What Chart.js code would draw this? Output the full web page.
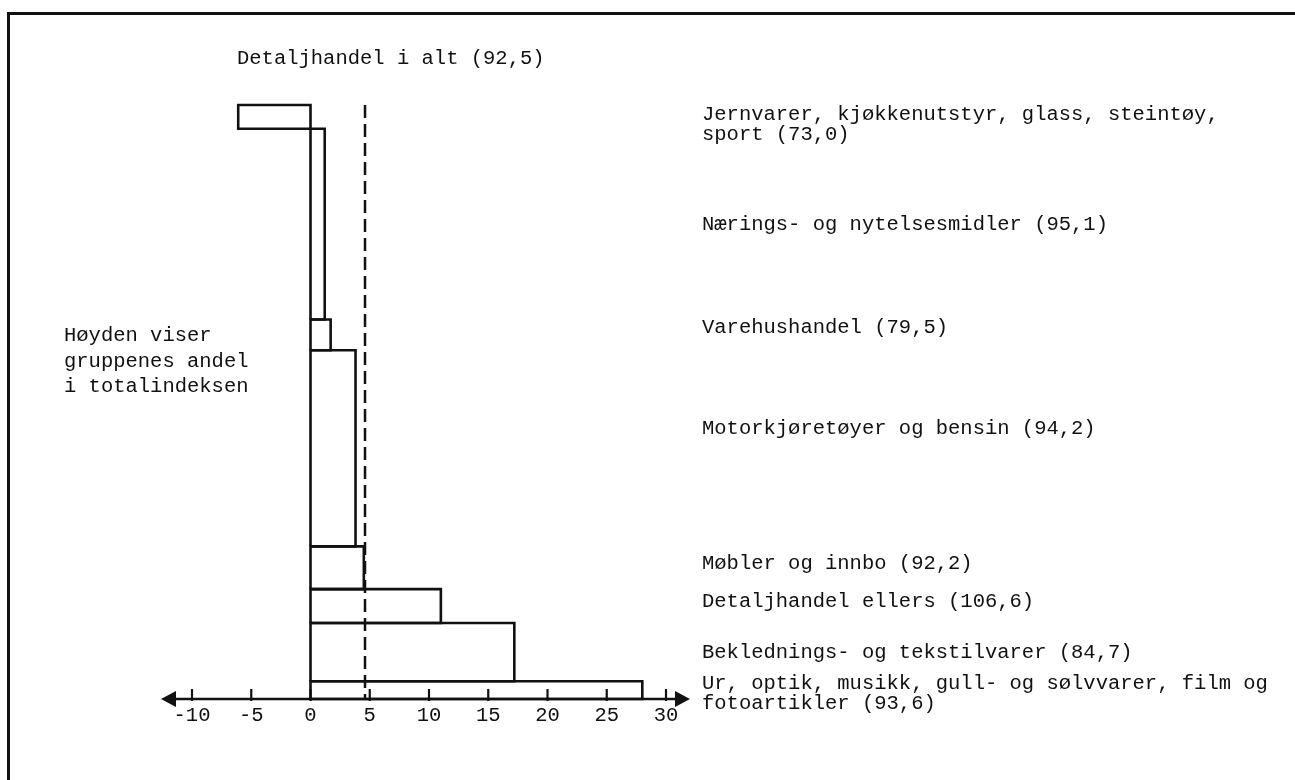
<!DOCTYPE html>
<html><head><meta charset="utf-8">
<script src="https://cdn.jsdelivr.net/npm/chart.js@4"></script>
<style>
html,body{margin:0;padding:0;background:#fff;}
#wrap{position:relative;width:1295px;height:780px;overflow:hidden;background:#fff;}
#frame{position:absolute;left:7px;top:12px;width:1400px;height:900px;border-left:3px solid #111;border-top:3px solid #111;}
canvas{position:absolute;left:0;top:0;}
</style></head><body>
<div id="wrap"><div id="frame"></div><canvas id="c" width="1295" height="780"></canvas></div>
<script>
// ---- data ----
const categoryLines = [
  ['Jernvarer, kjøkkenutstyr, glass, steintøy,', 'sport (73,0)'],
  ['Nærings- og nytelsesmidler (95,1)'],
  ['Varehushandel (79,5)'],
  ['Motorkjøretøyer og bensin (94,2)'],
  ['Møbler og innbo (92,2)'],
  ['Detaljhandel ellers (106,6)'],
  ['Beklednings- og tekstilvarer (84,7)'],
  ['Ur, optik, musikk, gull- og sølvvarer, film og', 'fotoartikler (93,6)']
];
const changes = [-6.1, 1.2, 1.7, 3.8, 4.5, 11.0, 17.2, 28.0];
const shares = [4.0, 32.1, 5.2, 33.0, 7.2, 5.7, 9.8, 3.0];
const totalChange = 4.6;
const totalLabel = 'Detaljhandel i alt (92,5)';
const xTicks = [-10, -5, 0, 5, 10, 15, 20, 25, 30];
const heightNote = ['Høyden viser', 'gruppenes andel', 'i totalindeksen'];

// ---- layout (positions in page pixels, not data) ----
const labelY = [115, 225, 328, 429, 564, 602, 653, 684];
const labelX = 702;
const lineGap = 20;
const FONT = '20.5px "Liberation Mono", "DejaVu Sans Mono", monospace';
const INK = '#111111';

const totalShare = shares.reduce((a, b) => a + b, 0);
const datasets = [];
let cum = totalShare;
shares.forEach((s, i) => {
  const lower = cum - s;
  const v = changes[i];
  datasets.push({
    type: 'line',
    data: [{x: 0, y: lower}, {x: v, y: lower}, {x: v, y: cum}, {x: 0, y: cum}, {x: 0, y: lower}],
    borderColor: INK, borderWidth: 2.6, pointRadius: 0, fill: false, tension: 0,
    showLine: true, clip: false, borderJoinStyle: 'miter'
  });
  cum = lower;
});
datasets.push({
  type: 'line',
  data: [{x: totalChange, y: totalShare}, {x: totalChange, y: 0}],
  borderColor: INK, borderWidth: 2.5, borderDash: [13, 6], pointRadius: 0,
  fill: false, showLine: true, clip: false
});

const annot = {
  id: 'annot',
  afterDraw(chart) {
    const ctx = chart.ctx;
    const xs = chart.scales.x, ys = chart.scales.y;
    const axisY = ys.getPixelForValue(0);
    const left = xs.getPixelForValue(xTicks[0]) - 31;
    const right = xs.getPixelForValue(xTicks[xTicks.length - 1]) + 24;
    ctx.save();
    ctx.strokeStyle = INK; ctx.fillStyle = INK;
    ctx.lineWidth = 2.6;
    ctx.beginPath(); ctx.moveTo(left + 8, axisY); ctx.lineTo(right - 8, axisY); ctx.stroke();
    ctx.beginPath(); ctx.moveTo(left, axisY); ctx.lineTo(left + 15, axisY - 8); ctx.lineTo(left + 15, axisY + 8); ctx.closePath(); ctx.fill();
    ctx.beginPath(); ctx.moveTo(right, axisY); ctx.lineTo(right - 15, axisY - 8); ctx.lineTo(right - 15, axisY + 8); ctx.closePath(); ctx.fill();
    ctx.lineWidth = 2.2;
    xTicks.forEach(t => {
      const px = xs.getPixelForValue(t);
      ctx.beginPath(); ctx.moveTo(px, axisY - 10); ctx.lineTo(px, axisY + 2); ctx.stroke();
    });
    ctx.font = FONT;
    ctx.textBaseline = 'middle';
    ctx.textAlign = 'center';
    xTicks.forEach(t => {
      ctx.fillText(String(t), xs.getPixelForValue(t), axisY + 17);
    });
    ctx.textAlign = 'left';
    ctx.fillText(totalLabel, 237, 59);
    heightNote.forEach((s, i) => ctx.fillText(s, 64, 336 + i * 25.5));
    categoryLines.forEach((lines, i) => {
      lines.forEach((s, j) => ctx.fillText(s, labelX, labelY[i] + j * lineGap));
    });
    ctx.restore();
  }
};

new Chart(document.getElementById('c'), {
  type: 'scatter',
  data: {datasets},
  options: {
    responsive: false, animation: false, devicePixelRatio: 1,
    layout: {padding: {left: 192, right: 1295 - 666, top: 105, bottom: 780 - 699}},
    scales: {
      x: {type: 'linear', min: -10, max: 30, display: false},
      y: {type: 'linear', min: 0, max: totalShare, display: false}
    },
    plugins: {legend: {display: false}, tooltip: {enabled: false}}
  },
  plugins: [annot]
});
</script>
</body></html>
